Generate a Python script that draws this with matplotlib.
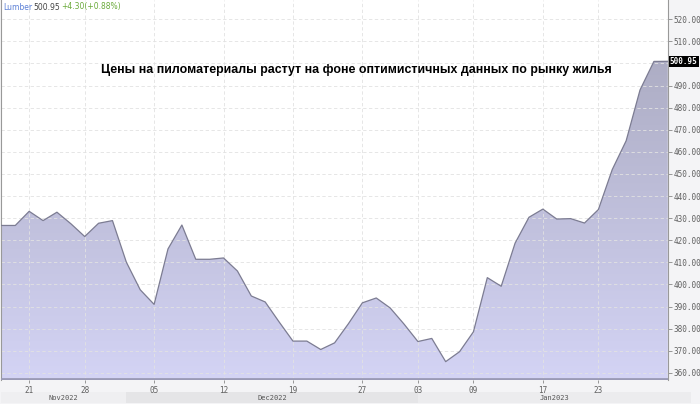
import matplotlib.pyplot as plt
import numpy as np
from matplotlib.transforms import blended_transform_factory
from matplotlib.patches import Rectangle

# lumber close prices, trading days from 17 Nov 2022 to 30 Jan 2023
prices = [426.7, 426.7, 433.1, 428.9, 432.7, 427.5, 421.7, 427.7, 428.9, 410.1,
          397.6, 391.0, 416.1, 426.9, 411.4, 411.4, 412.0, 406.1, 394.8, 392.1,
          383.1, 374.4, 374.4, 370.6, 373.6, 382.3, 391.7, 393.9, 389.4, 382.1,
          374.2, 375.6, 365.1, 369.6, 378.6, 403.1, 399.2, 418.7, 430.4, 434.1,
          429.6, 429.8, 427.8, 433.9, 452.0, 465.0, 488.0, 500.9, 500.95]

# x tick labels at trading-day indices
tick_idx = [2, 6, 11, 16, 21, 26, 30, 34, 39, 43]
tick_labels = ["21", "28", "05", "12", "19", "27", "03", "09", "17", "23"]

# month bands (start index, end index, label)
months = ["Nov2022", "Dec2022", "Jan2023"]
month_start = [0, 9, 30]
month_end = [9, 30, 49.7]
month_colors = ["#efeff1", "#e5e5e7", "#ececee"]

y_ticks = [360, 370, 380, 390, 400, 410, 420, 430, 440, 450, 460, 470, 480, 490, 500, 510, 520]

title = "Цены на пиломатериалы растут на фоне оптимистичных данных по рынку жилья"

plt.rcParams['font.family'] = ['Liberation Sans', 'DejaVu Sans']

fig = plt.figure(figsize=(7, 4.04), dpi=100, facecolor="#f4f4f6")
ax = fig.add_axes([0.002, 1 - 380 / 404, 0.952, 380 / 404 - 0.001])
ax.set_facecolor("white")

x = np.arange(len(prices))
ymin, ymax = 356.8, 528.5
ax.set_xlim(0, len(prices) - 1)
ax.set_ylim(ymin, ymax)

# gradient fill under the line
fill = ax.fill_between(x, prices, ymin, color="none")
grad = np.linspace(0, 1, 256).reshape(-1, 1)
top_c = np.array([0.68, 0.68, 0.77])
bot_c = np.array([0.83, 0.83, 0.96])
img = top_c + (bot_c - top_c) * grad
im = ax.imshow(img[:, None, :].repeat(2, axis=1), aspect="auto",
               extent=[0, len(prices) - 1, ymin, 500.95], origin="upper", zorder=1)
path = fill.get_paths()[0]
im.set_clip_path(path, transform=ax.transData)
ax.plot(x, prices, color="#7c7c92", lw=0.9, zorder=3)
ax.axhline(ymin + 0.6, color="#9a9ab6", lw=2, zorder=3)

# grid
for yv in y_ticks:
    ax.axhline(yv, color="#e2e2e2", lw=0.6, ls=(0, (4, 3)), zorder=2)
for xi in tick_idx:
    ax.axvline(xi, color="#e2e2e2", lw=0.6, ls=(0, (4, 3)), zorder=2)

ax.yaxis.tick_right()
ax.set_yticks(y_ticks)
# 500.00 sits under the last price tag
ax.set_yticklabels(["" if v == 500 else f"{v:.2f}" for v in y_ticks], fontsize=5.5,
                   color="#606060", family="DejaVu Sans Mono")
ax.tick_params(axis="y", length=3, width=0.6, color="#888888", pad=1)
ax.set_xticks(tick_idx)
ax.set_xticklabels(tick_labels, fontsize=5.5, color="#606060", family="DejaVu Sans Mono")
ax.tick_params(axis="x", length=2, width=0.6, color="#888888", pad=2)

for side in ["top", "bottom"]:
    ax.spines[side].set_visible(False)
ax.spines["left"].set_color("#999999")
ax.spines["right"].set_color("#999999")

# month band below the axis
tr = blended_transform_factory(ax.transData, fig.transFigure)
for lab, s, e, c in zip(months, month_start, month_end, month_colors):
    ax.add_patch(Rectangle((s, 1 / 404), e - s, 11 / 404, transform=tr,
                           facecolor=c, edgecolor="none", clip_on=False))
    ax.text((s + e) / 2, 6.5 / 404, lab, transform=tr, ha="center", va="center",
            fontsize=5, color="#555555", family="DejaVu Sans Mono")

# last price tag
tr_y = blended_transform_factory(ax.transAxes, ax.transData)
ax.text(1.003, prices[-1], f"{prices[-1]:.2f}", transform=tr_y, ha="left", va="center",
        fontsize=5.5, color="white", family="DejaVu Sans Mono", fontweight="bold",
        bbox=dict(boxstyle="square,pad=0.15", facecolor="black", edgecolor="none"))

# header
fig.text(3 / 700, 1 - 7 / 404, "Lumber", fontsize=5.5, color="#5a7fd6", va="center",
         family="DejaVu Sans")
fig.text(33 / 700, 1 - 7 / 404, "500.95", fontsize=5.5, color="#444444", va="center",
         family="DejaVu Sans")
fig.text(61 / 700, 1 - 7 / 404, "+4.30(+0.88%)", fontsize=5.5, color="#6aaa3a", va="center",
         family="DejaVu Sans")

fig.text(356 / 700, 1 - 70 / 404, title, fontsize=8.9, fontweight="bold",
         ha="center", va="center", color="black")

fig.savefig("out.png", dpi=100, facecolor=fig.get_facecolor())
